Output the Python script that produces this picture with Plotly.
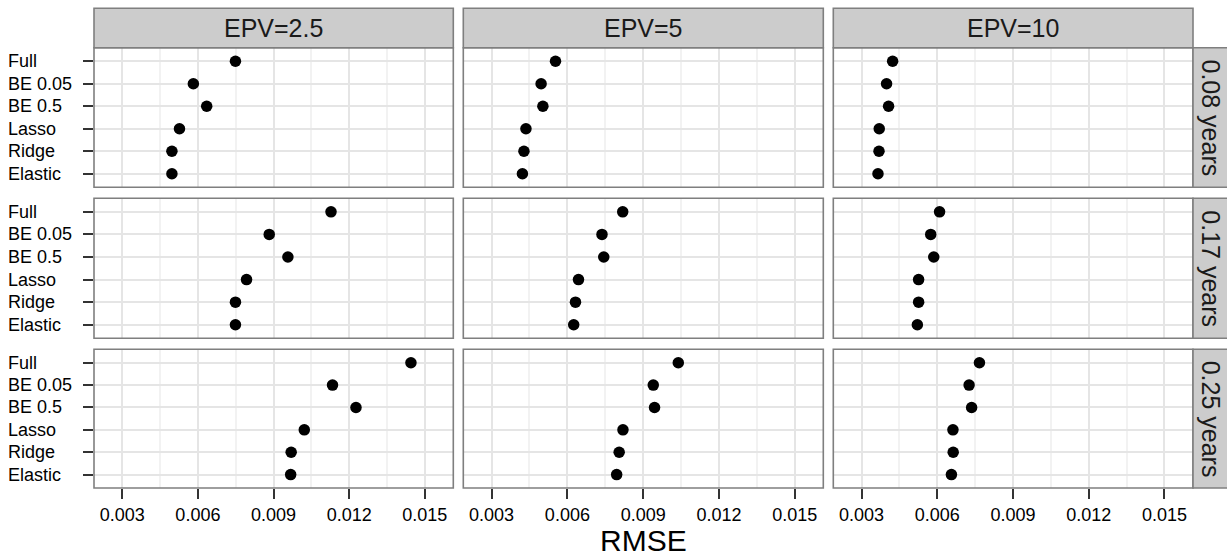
import plotly.graph_objects as go

methods = ["Full", "BE 0.05", "BE 0.5", "Lasso", "Ridge", "Elastic"]
epv_labels = ["EPV=2.5", "EPV=5", "EPV=10"]
horizon_labels = ["0.08 years", "0.17 years", "0.25 years"]

rmse_008_epv25 = [0.00749, 0.00582, 0.00635, 0.00527, 0.00497, 0.00497]
rmse_008_epv5 = [0.00553, 0.00496, 0.00503, 0.00436, 0.00428, 0.00422]
rmse_008_epv10 = [0.00423, 0.00399, 0.00407, 0.00370, 0.00369, 0.00365]
rmse_017_epv25 = [0.01128, 0.00883, 0.00957, 0.00793, 0.00749, 0.00749]
rmse_017_epv5 = [0.00819, 0.00737, 0.00744, 0.00644, 0.00632, 0.00625]
rmse_017_epv10 = [0.00609, 0.00574, 0.00586, 0.00526, 0.00526, 0.00521]
rmse_025_epv25 = [0.01445, 0.01134, 0.01227, 0.01022, 0.00970, 0.00968]
rmse_025_epv5 = [0.01039, 0.00940, 0.00945, 0.00820, 0.00805, 0.00795]
rmse_025_epv10 = [0.00767, 0.00726, 0.00736, 0.00662, 0.00663, 0.00656]

grid_values = [
    [rmse_008_epv25, rmse_008_epv5, rmse_008_epv10],
    [rmse_017_epv25, rmse_017_epv5, rmse_017_epv10],
    [rmse_025_epv25, rmse_025_epv5, rmse_025_epv10],
]

x_ticks = [0.003, 0.006, 0.009, 0.012, 0.015]
x_tick_text = ["0.003", "0.006", "0.009", "0.012", "0.015"]

W, H = 1227, 558
ML, MR, MT, MB = 94, 34, 8, 70
PW = W - ML - MR
PH = H - MT - MB


def px(x):
    return (x - ML) / PW


def py(y):
    return (H - MB - y) / PH


def clamp(v):
    return min(1.0, max(0.0, v))


col_px = [(94, 453.3), (463.3, 823.3), (833.3, 1193)]
row_px = [(47.7, 187.3), (198.3, 338.3), (349.3, 488)]

FONT = "Liberation Sans, Arial, sans-serif"
GREY50 = "#7F7F7F"
fig = go.Figure()
layout = dict(
    width=W, height=H,
    margin=dict(l=ML, r=MR, t=MT, b=MB),
    paper_bgcolor="white", plot_bgcolor="white",
    showlegend=False,
    font=dict(family=FONT, color="black", size=18),
)
shapes = []
annotations = []

cat_order = list(reversed(methods))

for r in range(3):
    for c in range(3):
        n = r * 3 + c + 1
        xa = "xaxis" if n == 1 else f"xaxis{n}"
        ya = "yaxis" if n == 1 else f"yaxis{n}"
        xr = "x" if n == 1 else f"x{n}"
        yr = "y" if n == 1 else f"y{n}"
        fig.add_trace(go.Scatter(
            x=grid_values[r][c], y=methods, mode="markers",
            marker=dict(color="black", size=11.5),
            xaxis=xr, yaxis=yr, hoverinfo="x+y",
        ))
        x0, x1 = col_px[c]
        y0, y1 = row_px[r]
        layout[xa] = dict(
            domain=[clamp(px(x0)), clamp(px(x1))], anchor=yr,
            range=[0.00188, 0.01613],
            tickvals=x_ticks, ticktext=x_tick_text,
            showticklabels=(r == 2),
            ticks="outside" if r == 2 else "",
            ticklen=10, tickwidth=2, tickcolor="#333333",
            tickfont=dict(size=18, color="black", family=FONT),
            showgrid=True, gridcolor="#E5E5E5", gridwidth=1.5,
            minor=dict(tick0=0.0015, dtick=0.003, showgrid=True,
                       gridcolor="#F2F2F2", gridwidth=1.5, ticks=""),
            zeroline=False, showline=False,
        )
        layout[ya] = dict(
            domain=[clamp(py(y1)), clamp(py(y0))], anchor=xr,
            type="category", categoryorder="array", categoryarray=cat_order,
            range=[-0.6, 5.6],
            showticklabels=False,
            ticks="outside" if c == 0 else "",
            ticklen=10, tickwidth=2, tickcolor="#333333",
            showgrid=True, gridcolor="#E5E5E5", gridwidth=1.5,
            zeroline=False, showline=False,
        )
        # panel border
        shapes.append(dict(type="rect", xref="paper", yref="paper",
                           x0=px(x0), x1=px(x1), y0=py(y1), y1=py(y0),
                           line=dict(color=GREY50, width=1.6),
                           fillcolor="rgba(0,0,0,0)", layer="above"))
        if c == 0:
            for m in methods:
                annotations.append(dict(
                    text=m, xref="paper", yref=yr, x=px(6), y=m,
                    xanchor="left", yanchor="middle", showarrow=False,
                    font=dict(size=18, color="black", family=FONT)))

# top strips
for c in range(3):
    x0, x1 = col_px[c]
    shapes.append(dict(type="rect", xref="paper", yref="paper",
                       x0=px(x0), x1=px(x1), y0=py(47.7), y1=py(8.3),
                       line=dict(color=GREY50, width=1.6), fillcolor="#CCCCCC",
                       layer="above"))
    annotations.append(dict(text=epv_labels[c], xref="paper", yref="paper",
                            x=px((x0 + x1) / 2), y=py(28), xanchor="center",
                            yanchor="middle", showarrow=False,
                            font=dict(size=25, color="#1A1A1A", family=FONT)))

# right strips
for r in range(3):
    y0, y1 = row_px[r]
    shapes.append(dict(type="rect", xref="paper", yref="paper",
                       x0=px(1193), x1=px(1230), y0=py(y1), y1=py(y0),
                       line=dict(color=GREY50, width=1.6), fillcolor="#CCCCCC",
                       layer="above"))
    annotations.append(dict(text=horizon_labels[r], xref="paper", yref="paper",
                            x=px(1211), y=py((y0 + y1) / 2), xanchor="center",
                            yanchor="middle", showarrow=False, textangle=90,
                            font=dict(size=25, color="#1A1A1A", family=FONT)))

annotations.append(dict(text="RMSE", xref="paper", yref="paper",
                        x=0.5, y=py(540), xanchor="center", yanchor="middle",
                        showarrow=False, height=26, valign="middle",
                        font=dict(size=30, color="black", family=FONT)))

layout["shapes"] = shapes
layout["annotations"] = annotations
fig.update_layout(**layout)
fig.write_html(
    "out.html",
    config={"displayModeBar": False},
    post_script="document.body.style.margin='0';document.body.style.overflow='hidden';",
)
